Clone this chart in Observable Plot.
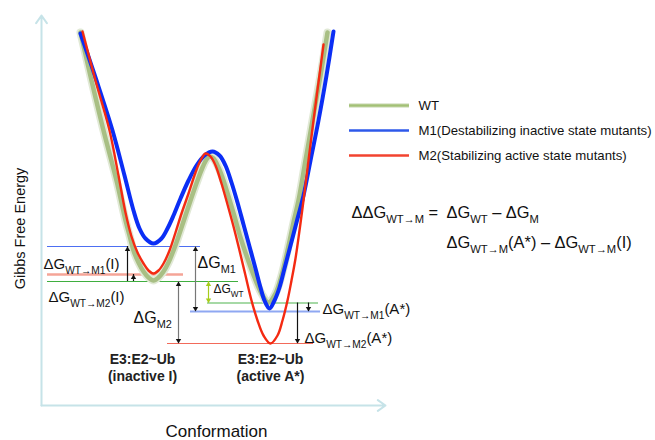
<!DOCTYPE html>
<html><head><meta charset="utf-8">
<script src="https://cdn.jsdelivr.net/npm/d3@7"></script>
<script src="https://cdn.jsdelivr.net/npm/@observablehq/plot@0.6"></script>
<style>
body{margin:0;background:#fff;}
#chart svg{display:block;}
</style></head><body><div id="chart"></div>
<script>
// ---- energy profiles (conformation units, energy units) ----
const wtConf   = [9.75,12.5,15.5,18.75,21,22,23,24.25,25.5,26.75,28,29.25,30.5,31.75,33,34.25,35.5,37.25,39,40.25,41.25,42,43,44.25,45.5,46.75,48.25,49.75,51.5,53.25,55,56.75,58.5,60,61.5,63,64.25,66,67.75,69.75,71.5];
const wtEnergy = [74.6,65,55,45,37,34,31,28.6,26.8,25.6,25,25.6,26.8,28.6,31,33.8,36.8,41,45,47.6,49.2,49.8,49.4,47.6,45,41.8,37.8,33.6,29.4,25.6,22.4,20.6,22.4,26,31,36.6,41,49,57,66,74.6];
const m1Conf   = [9.75,13.75,17.75,20.75,23,24.5,26,28,30,31.5,33,34.75,36.75,38.75,40.75,42.75,44.5,46,47.5,49,50.5,52,53.5,54.75,55.75,57,58.25,59.5,60.75,62.25,63.75,65.5,67.25,69.25,71.25,73];
const m1Energy = [74.4,65,55,46,39,35.4,33.4,32.4,33.4,35.4,38,41.4,45,48,50,50.8,50,48,44.6,40.6,36.2,31.8,27.4,23.6,21,19.4,21,23.6,27.4,32,36.6,42,49,57,66,74.8];
const m2Conf   = [10.25,13.5,17,19.25,21,22.5,24,25.5,26.75,28,29.25,30.5,32,33.5,35,36.75,38.5,39.75,41,42.25,43.5,45,46.5,48,49.5,51,52.5,54,55.5,57.25,59,60.25,61.5,62.5,63.5,64.5,65.5,66.75,68,69.25,70.5];
const m2Energy = [74.8,65,55,46,38.6,33.8,30.6,28.4,27,26.4,27,28.4,31,34.6,38.4,42.4,46.6,49,50.4,49.8,48,44.4,40.2,35.8,31,26,21,17,14,12.4,14,17,21,25,29.4,35,41,49,57,64.6,72.2];

// ---- reference energy levels ----
const levelNames  = ["M1 (I)","M2 (I)","WT (I)","WT (A*)","M1 (A*)","M2 (A*)"];
const levelEnergy = [31.8,26.2,24.8,20.5,18.8,12.4];
const levelFrom   = [1.5,1.5,1.5,41.5,37.25,31.5];
const levelTo     = [39.75,35.5,49.25,69.25,69.75,68];

// ---- energy-difference arrows ----
const arrowConf = [21.5,23,34.25,38.5,41.75,66.75,64];
const arrowFrom = [24.8,24.8,24.8,31.8,24.8,20.5,20.5];
const arrowTo   = [31.8,26.2,12.4,18.8,20.5,18.8,12.4];
const arrowBoth = [false,false,true,true,true,false,false];

// ---- annotation labels ----
const labelText   = ["ΔG_{WT→M1}(I)","ΔG_{WT→M2}(I)","ΔG_{M1}","ΔG_{M2}","ΔG_{WT}","ΔG_{WT→M1}(A*)","ΔG_{WT→M2}(A*)"];
const labelConf   = [0.5,1.75,39,23,43,70.25,65.75];
const labelEnergy = [27.4,20.8,27.6,16.6,22.6,18.4,12.6];

const stateTitle  = ["E3:E2~Ub","E3:E2~Ub"];
const stateName   = ["(inactive I)","(active A*)"];
const stateConf   = [25.25,57.25];

const legendNames  = ["WT","M1(Destabilizing inactive state mutants)","M2(Stabilizing active state mutants)"];
const legendEnergy = [60,55,50];

const formulaText   = ["ΔΔG_{WT→M} =","ΔG_{WT} – ΔG_{M}","ΔG_{WT→M}(A*) – ΔG_{WT→M}(I)"];
const formulaConf   = [77.5,101.25,101.25];
const formulaEnergy = [37.6,37.6,31.6];

const axisTitles = ["Conformation","Gibbs Free Energy"];

// ---- styles ----
const levelColors = ["#4d6ff2","#f5a497","#3fae3f","#4fb34f","#8fa8f2","#f26a5a"];
const levelWidths = [1.2,2.5,1.2,1.2,2,1.2];
const arrowColors = ["#111","#111","#777","#777","#a6cc1a","#111","#111"];
const labelSizes  = [15,15,16,16,12,15,15];
const legendColors = ["#a3c076","#2e58ea","#f2432f"];
const FONT = "'Liberation Sans', Arial, Helvetica, sans-serif";

const zip = (xs, ys) => xs.map((x, i) => ({x, y: ys[i]}));
const wt = zip(wtConf, wtEnergy), m1 = zip(m1Conf, m1Energy), m2 = zip(m2Conf, m2Energy);

const levels = levelNames.map((n, i) => ({n, y: levelEnergy[i], x1: levelFrom[i], x2: levelTo[i], c: levelColors[i], w: levelWidths[i]}));
const arrows = arrowConf.map((x, i) => ({x, y1: arrowFrom[i], y2: arrowTo[i], c: arrowColors[i]}));
const heads = [];
arrows.forEach((a, i) => {
  const up = a.y2 > a.y1;
  heads.push({x: a.x, y: a.y2, up, c: a.c});
  if (arrowBoth[i]) heads.push({x: a.x, y: a.y1, up: !up, c: a.c});
});
const labels = labelText.map((t, i) => ({t, x: labelConf[i], y: labelEnergy[i], s: labelSizes[i]}));
const legend = legendNames.map((t, i) => ({t, y: legendEnergy[i], c: legendColors[i]}));
const formula = formulaText.map((t, i) => ({t, x: formulaConf[i], y: formulaEnergy[i]}));

const xMax = 86, yMax = 78;
const CURVE = "catmull-rom";

const chart = Plot.plot({
  width: 655, height: 440, margin: 0,
  x: {domain: [0, xMax], range: [41, 385], axis: null},
  y: {domain: [0, yMax], range: [405, 15], axis: null},
  style: {fontFamily: FONT, background: "#fff", overflow: "visible", color: "#111"},
  marks: [
    // axes
    Plot.arrow([{x1: 0, y1: 0, x2: 0, y2: yMax}, {x1: 0, y1: 0, x2: xMax, y2: 0}],
      {x1: "x1", y1: "y1", x2: "x2", y2: "y2", stroke: "#c6e3e8", strokeWidth: 2, headLength: 7, headAngle: 70}),
    // energy levels
    ...levels.map(l => Plot.ruleY([l], {y: "y", x1: "x1", x2: "x2", stroke: l.c, strokeWidth: l.w})),
    // curves
    Plot.line(wt, {x: "x", y: "y", curve: CURVE, stroke: "#e1e9d6", strokeWidth: 8}),
    Plot.line(wt, {x: "x", y: "y", curve: CURVE, stroke: "#a8bf84", strokeWidth: 4.5}),
    Plot.line(m1, {x: "x", y: "y", curve: CURVE, stroke: "#0b2ef5", strokeWidth: 4}),
    Plot.line(m2, {x: "x", y: "y", curve: CURVE, stroke: "#f42a12", strokeWidth: 2.4}),
    // arrows
    ...arrows.map(a => Plot.ruleX([a], {x: "x", y1: "y1", y2: "y2", stroke: a.c, strokeWidth: 1.2})),
    ...heads.map(h => Plot.dot([h], {x: "x", y: "y", symbol: "triangle", r: 2, fill: h.c === "#777" ? "#111" : h.c, stroke: "none",
      rotate: h.up ? 0 : 180, dy: h.up ? 3 : -3})),
    // labels
    ...labels.map(l => Plot.text([l], {x: "x", y: "y", text: "t", textAnchor: "start", lineAnchor: "bottom", fontSize: l.s, fill: "#111"})),
    Plot.text(stateConf.map((x, i) => ({x, t: stateTitle[i]})), {x: "x", y: () => 8.4, text: "t", fontSize: 14, fontWeight: "bold", lineAnchor: "bottom", fill: "#222"}),
    Plot.text(stateConf.map((x, i) => ({x, t: stateName[i]})), {x: "x", y: () => 5, text: "t", fontSize: 14, fontWeight: "bold", lineAnchor: "bottom", fill: "#222"}),
    // legend
    Plot.ruleY(legend.slice(0,1), {y: "y", x1: () => 77, x2: () => 92, stroke: "#e1e9d6", strokeWidth: 5}),
    ...legend.map(l => Plot.ruleY([l], {y: "y", x1: () => 77, x2: () => 92, stroke: l.c, strokeWidth: 2.5})),
    Plot.text(legend, {x: () => 94.25, y: "y", text: "t", textAnchor: "start", fontSize: 13.2, fill: "#111"}),
    // formula
    Plot.text(formula, {x: "x", y: "y", text: "t", textAnchor: "start", lineAnchor: "bottom", fontSize: 16.4, fill: "#111"}),
    // axis titles
    Plot.text([axisTitles[0]], {x: () => 43.75, y: () => -5.2, text: d => d, fontSize: 17, fill: "#111"}),
    Plot.text([axisTitles[1]], {x: () => -5.25, y: () => 35.4, text: d => d, rotate: -90, fontSize: 14.5, fill: "#111"})
  ]
});

document.getElementById("chart").appendChild(chart);

// turn "_{...}" into real subscripts
const NS = "http://www.w3.org/2000/svg";
chart.querySelectorAll("text").forEach(el => {
  const txt = el.textContent;
  if (!txt.includes("_{")) return;
  const fs = parseFloat(getComputedStyle(el).fontSize) || 15;
  const parts = txt.split(/_\{([^}]*)\}/);
  el.textContent = "";
  let shift = 0;
  parts.forEach((p, i) => {
    const isSub = i % 2 === 1;
    const target = isSub ? Math.round(fs * 0.3) : 0;
    if (!p) return;
    const ts = document.createElementNS(NS, "tspan");
    if (target !== shift) { ts.setAttribute("dy", target - shift); shift = target; }
    if (isSub) ts.setAttribute("font-size", (fs * 0.68).toFixed(1));
    ts.textContent = p;
    el.appendChild(ts);
  });
});
</script>
</body></html>
